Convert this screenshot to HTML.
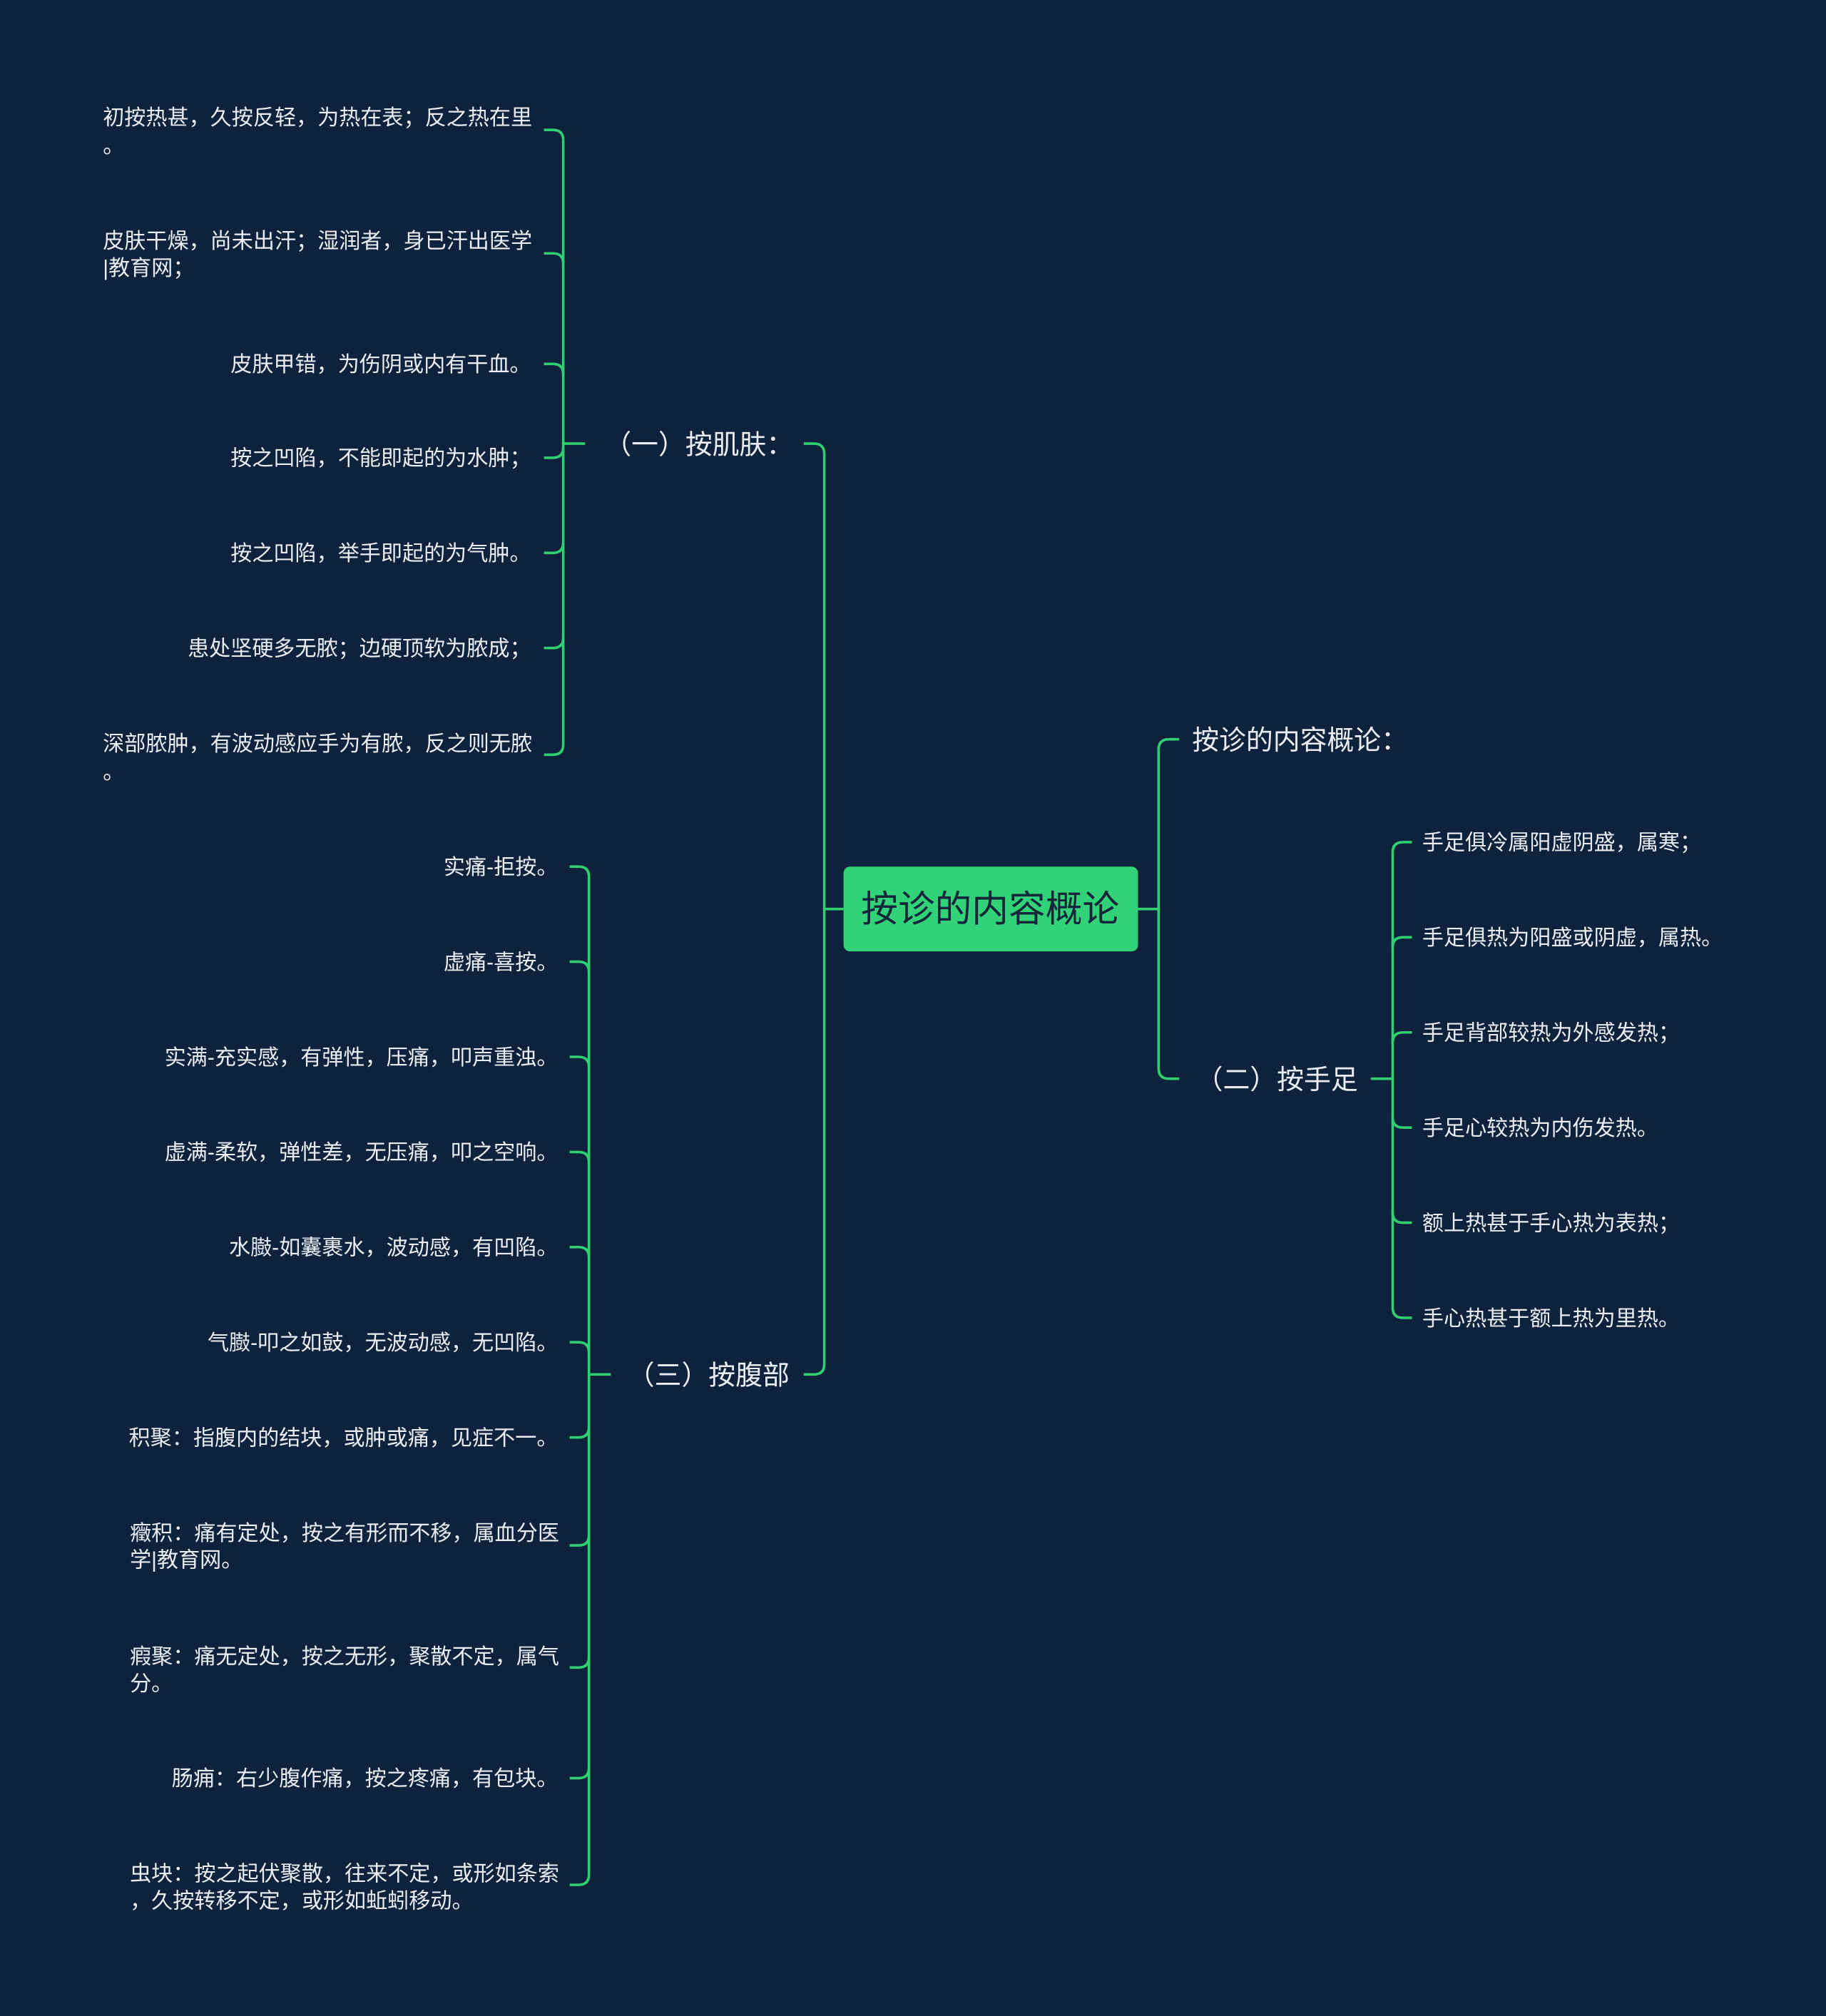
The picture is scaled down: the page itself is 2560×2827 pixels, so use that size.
<!DOCTYPE html>
<html><head><meta charset="utf-8">
<style>
html,body{margin:0;padding:0;background:#0e223b;}
svg{display:block;}
text{font-family:"Liberation Sans","Noto Sans CJK SC",sans-serif;fill:#e9eef4;}
</style></head>
<body>
<svg width="2560" height="2827" viewBox="0 0 1420 1568" xmlns="http://www.w3.org/2000/svg">
<rect width="1420" height="1568" fill="#0e223b"/>
<g fill="none" stroke="#2fcf72" stroke-width="2">
<path d="M656 707 H641"/>
<path d="M641 353 V1061"/>
<path d="M641 353 Q641 345 633 345 H625"/>
<path d="M641 1061 Q641 1069 633 1069 H625"/>
<path d="M455 345 H438"/>
<path d="M438 109 V579"/>
<path d="M438 109 Q438 101 430 101 H423"/>
<path d="M438 205 Q438 197 430 197 H423"/>
<path d="M438 291 Q438 283 430 283 H423"/>
<path d="M438 348 Q438 356 430 356 H423"/>
<path d="M438 422 Q438 430 430 430 H423"/>
<path d="M438 496 Q438 504 430 504 H423"/>
<path d="M438 579 Q438 587 430 587 H423"/>
<path d="M475 1069 H458"/>
<path d="M458 682 V1458"/>
<path d="M458 682 Q458 674 450 674 H443"/>
<path d="M458 756 Q458 748 450 748 H443"/>
<path d="M458 830 Q458 822 450 822 H443"/>
<path d="M458 904 Q458 896 450 896 H443"/>
<path d="M458 978 Q458 970 450 970 H443"/>
<path d="M458 1052 Q458 1044 450 1044 H443"/>
<path d="M458 1110 Q458 1118 450 1118 H443"/>
<path d="M458 1194 Q458 1202 450 1202 H443"/>
<path d="M458 1289 Q458 1297 450 1297 H443"/>
<path d="M458 1375 Q458 1383 450 1383 H443"/>
<path d="M458 1458 Q458 1466 450 1466 H443"/>
<path d="M885 707 H901"/>
<path d="M901 583 V831"/>
<path d="M901 583 Q901 575 909 575 H917"/>
<path d="M901 831 Q901 839 909 839 H917"/>
<path d="M1066 839 H1083"/>
<path d="M1083 663 V1017"/>
<path d="M1083 663 Q1083 655 1091 655 H1098"/>
<path d="M1083 737 Q1083 729 1091 729 H1098"/>
<path d="M1083 811 Q1083 803 1091 803 H1098"/>
<path d="M1083 869 Q1083 877 1091 877 H1098"/>
<path d="M1083 943 Q1083 951 1091 951 H1098"/>
<path d="M1083 1017 Q1083 1025 1091 1025 H1098"/>
</g>
<rect x="656" y="674" width="229" height="66" rx="5" fill="#31d278"/>
<text x="770" y="717" font-size="28.7" text-anchor="middle" style="fill:#14263a">按诊的内容概论</text>

<g font-size="21">
<text x="470" y="353">（一）按肌肤：</text>
<text x="488" y="1077">（三）按腹部</text>
<text x="927" y="583">按诊的内容概论：</text>
<text x="930" y="847">（二）按手足</text>
</g>

<g font-size="16.7">
<text x="80" y="97">初按热甚，久按反轻，为热在表；反之热在里</text>
<text x="80" y="119">。</text>
<text x="80" y="193">皮肤干燥，尚未出汗；湿润者，身已汗出医学</text>
<text x="80" y="214">|教育网；</text>
<g text-anchor="end">
<text x="413" y="289">皮肤甲错，为伤阴或内有干血。</text>
<text x="413" y="362">按之凹陷，不能即起的为水肿；</text>
<text x="413" y="436">按之凹陷，举手即起的为气肿。</text>
<text x="413" y="510">患处坚硬多无脓；边硬顶软为脓成；</text>
</g>
<text x="80" y="584">深部脓肿，有波动感应手为有脓，反之则无脓</text>
<text x="80" y="606">。</text>

<g text-anchor="end">
<text x="434" y="680">实痛-拒按。</text>
<text x="434" y="754">虚痛-喜按。</text>
<text x="434" y="828">实满-充实感，有弹性，压痛，叩声重浊。</text>
<text x="434" y="902">虚满-柔软，弹性差，无压痛，叩之空响。</text>
<text x="434" y="976">水臌-如囊裹水，波动感，有凹陷。</text>
<text x="434" y="1050">气臌-叩之如鼓，无波动感，无凹陷。</text>
<text x="434" y="1124">积聚：指腹内的结块，或肿或痛，见症不一。</text>
<text x="434" y="1389">肠痈：右少腹作痛，按之疼痛，有包块。</text>
</g>
<text x="101" y="1198">癥积：痛有定处，按之有形而不移，属血分医</text>
<text x="101" y="1219">学|教育网。</text>
<text x="101" y="1294">瘕聚：痛无定处，按之无形，聚散不定，属气</text>
<text x="101" y="1315">分。</text>
<text x="101" y="1463">虫块：按之起伏聚散，往来不定，或形如条索</text>
<text x="101" y="1484">，久按转移不定，或形如蚯蚓移动。</text>

<text x="1106" y="661">手足俱冷属阳虚阴盛，属寒；</text>
<text x="1106" y="735">手足俱热为阳盛或阴虚，属热。</text>
<text x="1106" y="809">手足背部较热为外感发热；</text>
<text x="1106" y="883">手足心较热为内伤发热。</text>
<text x="1106" y="957">额上热甚于手心热为表热；</text>
<text x="1106" y="1031">手心热甚于额上热为里热。</text>
</g>
</svg>
</body></html>
